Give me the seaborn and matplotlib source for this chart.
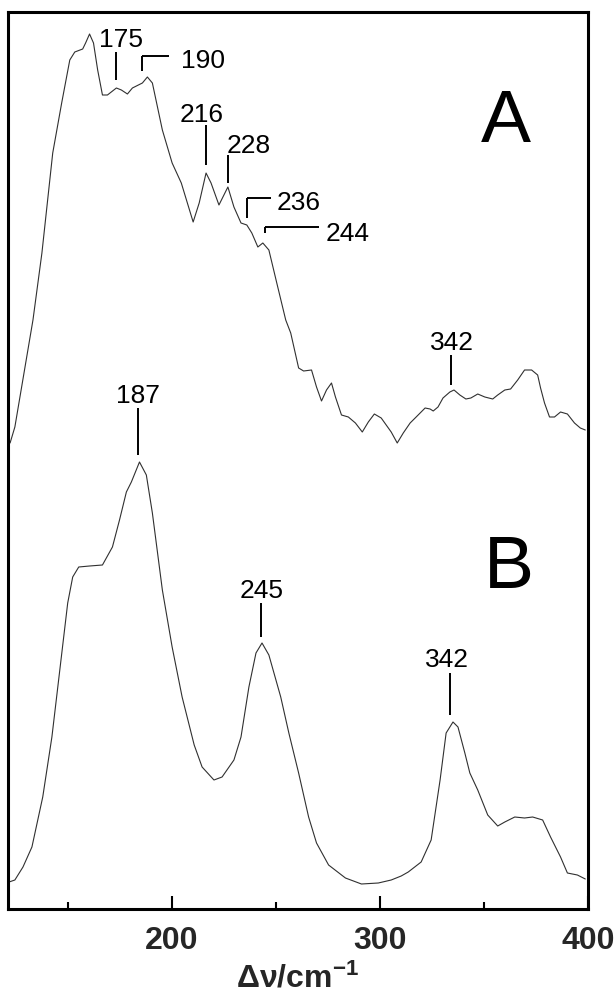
import matplotlib
matplotlib.use("Agg")
import matplotlib.pyplot as plt
import numpy as np
import pandas as pd
import seaborn as sns

# ---------------- data ----------------
# Spectrum A : Raman shift (cm-1) and intensity (arbitrary units, common scale)
wn_a = [122.2, 124.5, 133.2, 137.5, 142.7, 147.0, 150.9, 153.3, 157.1, 158.5,
        160.4, 162.3, 164.3, 166.6, 169.0, 173.3, 175.7, 178.6, 181.0, 185.8,
        188.2, 190.6, 195.4, 200.1, 204.5, 210.2, 213.1, 216.4, 218.8, 222.6,
        226.9, 229.8, 233.2, 236.0, 238.4, 241.3, 243.7, 246.6, 250.4, 254.7,
        257.1, 260.9, 263.3, 267.1, 269.5, 271.9, 274.3, 276.7, 278.6, 281.5,
        284.8, 288.2, 291.5, 294.4, 297.3, 300.6, 305.4, 308.3, 311.2, 314.5,
        317.4, 321.7, 324.1, 325.6, 327.9, 330.3, 333.6, 335.6, 338.4, 341.3,
        343.7, 347.0, 350.4, 354.2, 356.6, 360.0, 362.8, 366.2, 369.5, 372.9,
        375.8, 377.2, 379.1, 381.5, 383.9, 386.8, 390.1, 393.5, 396.3, 398.7]
int_a = [466, 482, 589, 656, 756, 806, 849, 857, 860, 866,
         875, 866, 839, 814, 814, 821, 819, 815, 821, 826,
         832, 826, 779, 746, 726, 687, 706, 736, 726, 704,
         722, 702, 686, 684, 676, 662, 666, 659, 626, 589,
         576, 541, 538, 539, 522, 508, 519, 526, 512, 494,
         492, 486, 477, 487, 495, 491, 477, 466, 476, 486,
         492, 501, 500, 498, 502, 511, 517, 519, 514, 510,
         511, 515, 512, 510, 514, 519, 520, 529, 539, 539,
         534, 521, 506, 492, 492, 497, 495, 486, 481, 479]

# Spectrum B
wn_b = [121.7, 124.5, 128.4, 132.7, 137.9, 142.3, 146.1, 149.9, 152.3, 155.2,
        160.4, 166.6, 171.4, 174.8, 178.1, 180.5, 184.4, 187.7, 190.6, 195.4,
        200.1, 204.9, 210.7, 214.5, 220.2, 224.1, 229.8, 233.2, 237.0, 240.4,
        243.3, 246.6, 252.3, 256.2, 260.9, 265.7, 269.5, 275.3, 283.4, 291.1,
        299.2, 305.4, 310.2, 313.6, 319.8, 324.6, 328.9, 331.8, 335.1, 337.5,
        340.8, 343.2, 347.0, 351.8, 356.6, 360.0, 364.8, 369.5, 373.4, 378.2,
        382.0, 386.8, 390.1, 394.9, 398.7]
int_b = [27, 29, 42, 62, 112, 172, 239, 306, 332, 342,
         343, 344, 362, 389, 417, 427, 447, 434, 396, 319,
         262, 212, 164, 142, 129, 132, 149, 172, 222, 256,
         266, 254, 212, 176, 136, 92, 66, 44, 31, 25,
         26, 29, 33, 37, 47, 69, 129, 176, 187, 182,
         156, 136, 119, 94, 83, 87, 92, 91, 92, 89,
         72, 52, 36, 34, 30]

# Peak annotations (label text and marked position in cm-1)
peak_text = ["175", "190", "216", "228", "236", "244", "342", "187", "245", "342"]
peak_pos = [173.3, 185.8, 216.4, 226.9, 236.0, 244.6, 334.2, 183.9, 242.7, 333.7]

major_ticks = [200, 300, 400]
minor_ticks = [150, 250, 350]
panel_labels = ["A", "B"]

# ---------------- layout of annotations ----------------
# (line bottom, line top, bracket end x or None, text x, text baseline y, ha)
ann_layout = [
    (829, 857, None, 175.7, 862, "center"),
    (838, 853, 198.7, 204.4, 841, "left"),
    (744, 784, None, 214.5, 787, "center"),
    (726, 754, None, 226.5, 756, "left"),
    (691, 711, 247.5, 250.4, 699, "left"),
    (676, 682, 270.5, 273.9, 668, "left"),
    (524, 554, None, 334.4, 559, "center"),
    (454, 501, None, 183.9, 506, "center"),
    (272, 306, None, 243.2, 311, "center"),
    (194, 236, None, 332.3, 242, "center"),
]

sns.set_theme(style="white")
plt.rcParams["font.family"] = ["Liberation Sans", "DejaVu Sans"]
plt.rcParams["mathtext.fontset"] = "custom"
plt.rcParams["mathtext.rm"] = "Liberation Sans"
plt.rcParams["mathtext.bf"] = "Liberation Sans:bold"
plt.rcParams["mathtext.default"] = "bf"

fig = plt.figure(figsize=(6.16, 9.98), dpi=100)
ax = fig.add_axes([8 / 616, 89 / 998, 580 / 616, 897 / 998])

df_a = pd.DataFrame({"wn": wn_a, "I": int_a})
df_b = pd.DataFrame({"wn": wn_b, "I": int_b})
line_kw = dict(color="#303030", linewidth=0.8, estimator=None, sort=False, ax=ax)
sns.lineplot(data=df_a, x="wn", y="I", **line_kw)
sns.lineplot(data=df_b, x="wn", y="I", **line_kw)

for txt, pos, (y0, y1, bx, tx, ty, ha) in zip(peak_text, peak_pos, ann_layout):
    ax.plot([pos, pos], [y0, y1], color="black", linewidth=1.4, solid_capstyle="butt")
    if bx is not None:
        ax.plot([pos, bx], [y1, y1], color="black", linewidth=1.4, solid_capstyle="butt")
    ax.text(tx, ty, txt, ha=ha, va="baseline", fontsize=19, color="black")

ax.text(360.7, 767, panel_labels[0], ha="center", va="baseline", fontsize=54, color="black")
ax.text(362.0, 321, panel_labels[1], ha="center", va="baseline", fontsize=54, color="black")

ax.set_xlim(121.2, 398.7)
ax.set_ylim(0, 897)
ax.set_xticks(major_ticks)
ax.set_xticks(minor_ticks, minor=True)
ax.set_yticks([])
ax.tick_params(axis="x", which="major", direction="in", length=9.5, width=1.5,
               labelsize=23, pad=12, bottom=True, top=False, color="black")
ax.tick_params(axis="x", which="minor", direction="in", length=5, width=1.5,
               bottom=True, top=False, color="black")
for lab in ax.get_xticklabels():
    lab.set_fontweight("bold")
ax.set_xlabel("Δν/cm$^{-1}$", fontsize=23, fontweight="bold")
ax.xaxis.set_label_coords(0.5, -0.0602)
ax.set_ylabel("")
for sp in ax.spines.values():
    sp.set_visible(True)
    sp.set_linewidth(2.2)
    sp.set_color("black")

fig.savefig("out.png", dpi=100)
